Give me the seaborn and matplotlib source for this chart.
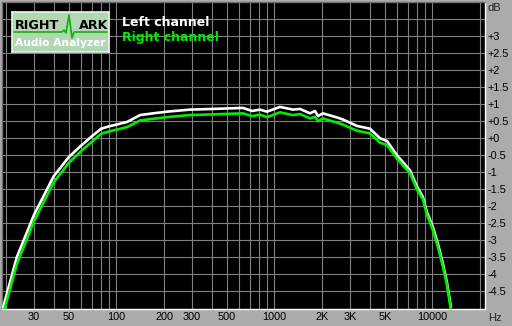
import numpy as np
import pandas as pd
import matplotlib
matplotlib.use("Agg")
import matplotlib.pyplot as plt
import seaborn as sns

# ---- data ----
freq_hz = [19.2, 23.4, 30, 40, 50, 60, 70, 80, 90, 100, 117, 141, 170, 209, 292,
           408, 632, 721, 810, 897, 1084, 1310, 1452, 1680, 1806, 1887, 2029, 2489,
           2716, 3330, 4026, 4656, 5156, 5967, 7210, 7980, 8712, 9238, 10080, 10840,
           11670, 12360, 13110]
left_db = [-4.96, -3.49, -2.26, -1.12, -0.55, -0.21, 0.06, 0.28, 0.35, 0.40, 0.48,
           0.68, 0.73, 0.78, 0.84, 0.86, 0.89, 0.80, 0.84, 0.78, 0.92, 0.84, 0.86,
           0.73, 0.80, 0.65, 0.73, 0.61, 0.55, 0.36, 0.28, 0.00, -0.08, -0.50, -0.94,
           -1.41, -1.73, -2.17, -2.61, -3.10, -3.69, -4.23, -4.96]
right_db = [-5.15, -3.70, -2.45, -1.30, -0.72, -0.37, -0.10, 0.13, 0.20, 0.25, 0.33,
            0.52, 0.57, 0.62, 0.68, 0.70, 0.73, 0.65, 0.69, 0.62, 0.76, 0.68, 0.71,
            0.58, 0.63, 0.50, 0.58, 0.46, 0.40, 0.22, 0.14, -0.13, -0.20, -0.60, -1.03,
            -1.50, -1.80, -2.25, -2.70, -3.20, -3.78, -4.30, -5.05]
series_names = ["Left channel", "Right channel"]

x_tick_vals = [30, 50, 100, 200, 300, 500, 1000, 2000, 3000, 5000, 10000]
x_tick_labels = ["30", "50", "100", "200", "300", "500", "1000", "2K", "3K", "5K", "10000"]
x_grid_vals = [20, 30, 40, 50, 60, 70, 80, 90, 100, 200, 300, 400, 500, 600, 700, 800,
               900, 1000, 2000, 3000, 4000, 5000, 6000, 7000, 8000, 9000, 10000, 20000]
y_tick_vals = [3.5, 3, 2.5, 2, 1.5, 1, 0.5, 0, -0.5, -1, -1.5, -2, -2.5, -3, -3.5, -4, -4.5]
y_tick_labels = ["", "+3", "+2.5", "+2", "+1.5", "+1", "+0.5", "+0", "-0.5", "-1", "-1.5",
                 "-2", "-2.5", "-3", "-3.5", "-4", "-4.5"]

df = pd.DataFrame({
    "freq": freq_hz * 2,
    "db": left_db + right_db,
    "channel": [series_names[0]] * len(freq_hz) + [series_names[1]] * len(freq_hz),
})

BG = "#ababab"
W, H = 512, 326

sns.set_style("dark")
plt.rcParams["font.family"] = ["Liberation Sans", "DejaVu Sans"]

fig = plt.figure(figsize=(W / 100, H / 100), dpi=100, facecolor=BG)
ax = fig.add_axes([2 / W, 1 - 308.5 / H, 483 / W, 306.5 / H])
ax.set_facecolor("black")

sns.lineplot(data=df, x="freq", y="db", hue="channel",
             palette={series_names[0]: "white", series_names[1]: "#00ee00"},
             estimator=None, sort=False, linewidth=1.9, legend=False, ax=ax, zorder=3)

ax.set_xscale("log")
ax.set_xlim(18.85, 21535)
ax.set_ylim(-5, 4)

ax.set_xticks(x_grid_vals, minor=True)
ax.set_xticks(x_tick_vals)
ax.set_xticklabels(x_tick_labels)
ax.xaxis.set_minor_formatter(matplotlib.ticker.NullFormatter())
ax.set_yticks(y_tick_vals)
ax.set_yticklabels(y_tick_labels)
ax.yaxis.tick_right()
ax.tick_params(axis="both", which="both", length=0, labelsize=7.8, colors="black")
ax.tick_params(axis="x", pad=2.5)
ax.tick_params(axis="y", pad=1.5)
ax.grid(True, which="both", axis="x", color="#808080", linewidth=0.8)
ax.grid(True, which="major", axis="y", color="#808080", linewidth=0.8)
ax.set_xlabel("")
ax.set_ylabel("")
for side in ["left", "top"]:
    ax.spines[side].set_color("#707070")
    ax.spines[side].set_linewidth(1)
    ax.spines[side].set_visible(True)
for side in ["right", "bottom"]:
    ax.spines[side].set_color("white")
    ax.spines[side].set_linewidth(1)
    ax.spines[side].set_visible(True)

fig.text(487 / W, 1 - 8 / H, "dB", ha="left", va="center", fontsize=8)
fig.text(488 / W, 1 - 318 / H, "Hz", ha="left", va="center", fontsize=8)

# legend text
fig.text(122 / W, 1 - 22 / H, series_names[0], color="white", fontsize=9,
         fontweight="bold", family="DejaVu Sans", ha="left", va="center")
fig.text(122 / W, 1 - 38 / H, series_names[1], color="#00ee00", fontsize=9,
         fontweight="bold", family="DejaVu Sans", ha="left", va="center")

# logo
lg = fig.add_axes([12 / W, 1 - 52 / H, 97 / W, 40 / H])
lg.set_xlim(0, 97)
lg.set_ylim(40, 0)
lg.set_facecolor("#b3d7b3")
lg.set_xticks([])
lg.set_yticks([])
for s in lg.spines.values():
    s.set_color("#e8f4e8")
    s.set_linewidth(1.2)
lg.plot([2, 50, 52, 54, 57, 60, 62, 95], [20, 20, 18, 21, 3, 26, 20, 20],
        color="#10b010", linewidth=1.2)
lg.text(3, 13.5, "RIGHT", fontsize=9.2, fontweight="bold", color="black",
        family="DejaVu Sans", ha="left", va="center")
lg.text(96, 13.5, "ARK", fontsize=9.2, fontweight="bold", color="black",
        family="DejaVu Sans", ha="right", va="center")
lg.text(48.5, 31, "Audio Analyzer", fontsize=7.7, fontweight="bold", color="white",
        family="DejaVu Sans", ha="center", va="center")

fig.savefig("out.png", dpi=100, facecolor=BG)
